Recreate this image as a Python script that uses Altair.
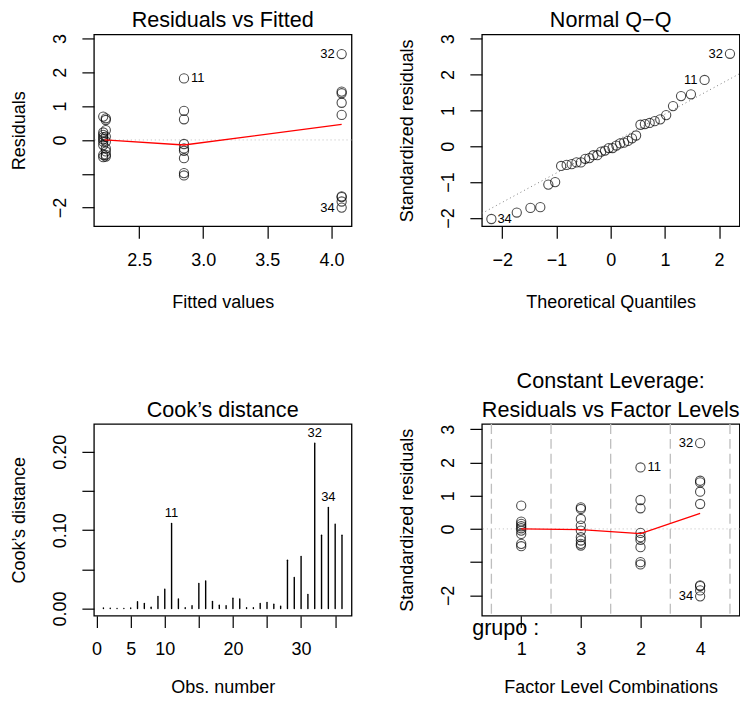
import altair as alt
import pandas as pd

FONT = "Liberation Sans"

# ---------------- data ----------------
obs = list(range(1, 37))
grupo = ["1"] * 9 + ["2"] * 9 + ["3"] * 9 + ["4"] * 9
group_fitted = {"1": 2.22, "2": 2.85, "3": 2.24, "4": 4.08}
level_labels = ["1", "3", "2", "4"]          # order on the factor-level axis
level_pos = {"1": 1, "3": 2, "2": 3, "4": 4}

residuals = [0.15, 0.08, 0.02, -0.05, -0.15, -0.51, -0.44, 0.22, 0.69,
             0.86, 1.82, 0.61, -0.12, -0.32, -0.98, -1.05, -0.54, -0.25,
             0.29, 0.64, 0.59, 0.10, -0.05, -0.44, -0.49, -0.34, -0.25,
             1.38, 1.10, 1.43, 0.74, 2.54, -1.69, -2.00, -1.82, -1.67]

std_residuals = [0.15, 0.08, 0.02, -0.05, -0.15, -0.52, -0.45, 0.22, 0.70,
                 0.87, 1.85, 0.62, -0.12, -0.33, -1.00, -1.07, -0.55, -0.25,
                 0.30, 0.65, 0.60, 0.10, -0.05, -0.45, -0.50, -0.35, -0.25,
                 1.40, 1.12, 1.45, 0.75, 2.58, -1.72, -2.03, -1.85, -1.70]

cooks = [0.0007, 0.0002, 0.0000, 0.0001, 0.0007, 0.0085, 0.0064, 0.0015, 0.0153,
         0.0247, 0.1085, 0.0120, 0.0010, 0.0034, 0.0320, 0.0350, 0.0090, 0.0040,
         0.0034, 0.0130, 0.0120, 0.0010, 0.0008, 0.0064, 0.0077, 0.0055, 0.0030,
         0.0617, 0.0396, 0.0664, 0.0179, 0.2110, 0.0936, 0.1290, 0.1077, 0.0936]

qq_theoretical = [-2.200, -1.732, -1.480, -1.298, -1.150, -1.024, -0.914, -0.812, -0.719,
                  -0.631, -0.549, -0.469, -0.393, -0.319, -0.246, -0.175, -0.105, -0.035,
                  0.035, 0.105, 0.175, 0.246, 0.319, 0.393, 0.469, 0.549, 0.631,
                  0.719, 0.812, 0.914, 1.024, 1.150, 1.298, 1.480, 1.732, 2.200]
qq_intercept = 0.075
qq_slope = 0.82

smooth_fit_x = [2.23, 2.85, 4.08]
smooth_fit_y = [0.0, -0.15, 0.46]
smooth_lev_x = [1, 2, 3, 4]
smooth_lev_y = [0.0, -0.02, -0.14, 0.47]
level_bounds = [0.5, 1.5, 2.5, 3.5, 4.5]

labelled = {11: "11", 32: "32", 34: "34"}

# ---------------- tables ----------------
df = pd.DataFrame({
    "obs": obs,
    "grupo": grupo,
    "fitted": [group_fitted[g] for g in grupo],
    "resid": residuals,
    "std": std_residuals,
    "cook": cooks,
    "lev": [level_pos[g] for g in grupo],
})
df["lab"] = [labelled.get(o, "") for o in obs]

qq = df.sort_values("std").reset_index(drop=True)
qq["theo"] = qq_theoretical

# ---------------- styling helpers ----------------
W, H = 258, 192
FS = 18
TFS = 21.6
AX = dict(domain=False, grid=False, ticks=True, tickSize=12, tickColor="black", tickWidth=1.2,
          labelFont=FONT, labelFontSize=FS, labelColor="black", labelFlush=False,
          labelOverlap=False, labelBound=False,
          titleFont=FONT, titleFontSize=FS, titleFontWeight="normal", titleColor="black")


def hide_when(test):
    return {"condition": {"test": test, "value": 0}, "value": 1}


def x_axis(title, values, title_y, **kw):
    return alt.Axis(title=title, values=values, tickCount=len(values),
                    labelBaseline="middle", labelAlign="center",
                    labelPadding=22, titleX=W / 2, titleY=title_y, titleBaseline="middle",
                    titleAlign="center", **AX, **kw)


def y_axis(title, values, **kw):
    return alt.Axis(title=title, values=values, tickCount=len(values),
                    labelAngle=270, labelAlign="center",
                    labelBaseline="middle", labelPadding=21, titleAngle=270, titleX=-74,
                    titleY=H / 2, titleBaseline="middle", titleAlign="center", **AX, **kw)


def sc(dom):
    return alt.Scale(domain=dom, nice=False, zero=False)


def title_layer(lines):
    n = len(lines)
    layers = []
    for i, line in enumerate(lines):
        layers.append(
            alt.Chart(pd.DataFrame({"t": [line]})).mark_text(
                align="center", baseline="alphabetic", font=FONT, fontSize=TFS, color="black")
            .encode(x=alt.value(W / 2), y=alt.value(-7 - 29 * (n - 1 - i)), text="t:N"))
    return layers


pts = dict(shape="circle", filled=False, size=85, strokeWidth=1.1, color="black")
lab_style = dict(font=FONT, fontSize=13, color="black", baseline="middle")

# ---------------- panel 1: residuals vs fitted ----------------
x1 = alt.X("fitted:Q", scale=sc([2.147, 4.157]),
           axis=x_axis("Fitted values", [2.5, 3.0, 3.5, 4.0], 76, format=".1f"))
y1 = alt.Y("resid:Q", scale=sc([-2.55, 3.12]),
           axis=y_axis("Residuals", [-2, -1, 0, 1, 2, 3],
                       labelOpacity=hide_when("datum.value == -1")))
b1 = alt.Chart(df)
sm1 = pd.DataFrame({"fitted": smooth_fit_x, "resid": smooth_fit_y})
zero1 = pd.DataFrame({"resid": [0]})
p1 = alt.layer(
    alt.Chart(zero1).mark_rule(color="#bebebe", strokeDash=[1, 3], strokeWidth=1).encode(y=y1),
    b1.mark_point(**pts).encode(x=x1, y=y1),
    alt.Chart(sm1).mark_line(color="red", strokeWidth=1.3).encode(x=x1, y=y1),
    b1.transform_filter("datum.obs == 11").mark_text(align="left", dx=7, **lab_style)
      .encode(x=x1, y=y1, text="lab:N"),
    b1.transform_filter("datum.obs == 32 || datum.obs == 34").mark_text(align="right", dx=-7, **lab_style)
      .encode(x=x1, y=y1, text="lab:N"),
    *title_layer(["Residuals vs Fitted"]),
).properties(width=W, height=H)

# ---------------- panel 2: normal Q-Q ----------------
x2 = alt.X("theo:Q", scale=sc([-2.376, 2.376]),
           axis=x_axis("Theoretical Quantiles", [-2, -1, 0, 1, 2], 76))
y2 = alt.Y("std:Q", scale=sc([-2.23, 3.12]),
           axis=y_axis("Standardized residuals", [-2, -1, 0, 1, 2, 3]))
b2 = alt.Chart(qq)
qline = pd.DataFrame({"theo": [-2.376, 2.376]})
qline["std"] = qq_intercept + qq_slope * qline["theo"]
p2 = alt.layer(
    alt.Chart(qline).mark_line(color="#808080", strokeDash=[1, 3], strokeWidth=1, clip=True)
      .encode(x=x2, y=y2),
    b2.mark_point(**pts).encode(x=x2, y=y2),
    b2.transform_filter("datum.obs == 34").mark_text(align="left", dx=6, **lab_style)
      .encode(x=x2, y=y2, text="lab:N"),
    b2.transform_filter("datum.obs == 11 || datum.obs == 32").mark_text(align="right", dx=-7, **lab_style)
      .encode(x=x2, y=y2, text="lab:N"),
    *title_layer(["Normal Q\u2212Q"]),
).properties(width=W, height=H)

# ---------------- panel 3: Cook's distance ----------------
x3 = alt.X("obs:Q", scale=sc([-0.4, 37.4]),
           axis=x_axis("Obs. number", [0, 5, 10, 15, 20, 25, 30, 35], 72,
                       labelOpacity=hide_when("datum.value == 15 || datum.value == 25 || datum.value == 35")))
y3 = alt.Y("cook:Q", scale=sc([-0.0092, 0.2357]),
           axis=y_axis("Cook\u2019s distance", [0, 0.05, 0.10, 0.15, 0.20], format=".2f",
                       labelOpacity=hide_when("(datum.value > 0.04 && datum.value < 0.06) || (datum.value > 0.14 && datum.value < 0.16)")))
b3 = alt.Chart(df).transform_calculate(base="0")
p3 = alt.layer(
    b3.mark_rule(color="black", strokeWidth=1.4, strokeCap="round").encode(x=x3, y=y3, y2="base:Q"),
    b3.transform_filter("datum.lab != ''").mark_text(align="center", dy=-10, **lab_style)
      .encode(x=x3, y=y3, text="lab:N"),
    *title_layer(["Cook\u2019s distance"]),
).properties(width=W, height=H)

# ---------------- panel 4: residuals vs factor levels ----------------
x4 = alt.X("lev:Q", scale=sc([0.34, 4.66]),
           axis=x_axis("Factor Level Combinations", [1, 2, 3, 4], 72,
                       labelExpr="['', '1', '3', '2', '4'][datum.value]"))
y4 = alt.Y("std:Q", scale=sc([-2.61, 3.16]),
           axis=y_axis("Standardized residuals", [-2, -1, 0, 1, 2, 3],
                       labelOpacity=hide_when("datum.value == -1")))
b4 = alt.Chart(df)
vl = pd.DataFrame({"lev": level_bounds})
sm4 = pd.DataFrame({"lev": smooth_lev_x, "std": smooth_lev_y})
zero4 = pd.DataFrame({"std": [0]})
p4 = alt.layer(
    alt.Chart(vl).mark_rule(color="#bebebe", strokeDash=[10, 5], strokeWidth=1.3).encode(x=x4),
    alt.Chart(zero4).mark_rule(color="#bebebe", strokeDash=[1, 3], strokeWidth=1).encode(y=y4),
    b4.mark_point(**pts).encode(x=x4, y=y4),
    alt.Chart(sm4).mark_line(color="red", strokeWidth=1.3).encode(x=x4, y=y4),
    b4.transform_filter("datum.obs == 11").mark_text(align="left", dx=7, **lab_style)
      .encode(x=x4, y=y4, text="lab:N"),
    b4.transform_filter("datum.obs == 32 || datum.obs == 34").mark_text(align="right", dx=-7, **lab_style)
      .encode(x=x4, y=y4, text="lab:N"),
    alt.Chart(pd.DataFrame({"t": ["grupo :"]})).mark_text(
        align="left", baseline="alphabetic", font=FONT, fontSize=TFS, color="black")
      .encode(x=alt.value(-9.7), y=alt.value(H + 19), text="t:N"),
    *title_layer(["Constant Leverage:", "Residuals vs Factor Levels"]),
).properties(width=W, height=H)

chart = alt.concat(p1, p2, p3, p4, columns=2, spacing={"row": 198, "column": 130.5},
                   bounds="flush").configure_view(
    stroke="black", strokeWidth=1.3
).properties(padding={"left": 2, "top": 1, "right": -1, "bottom": 0})

chart.save("out.html", embed_options={"renderer": "svg", "actions": False})
